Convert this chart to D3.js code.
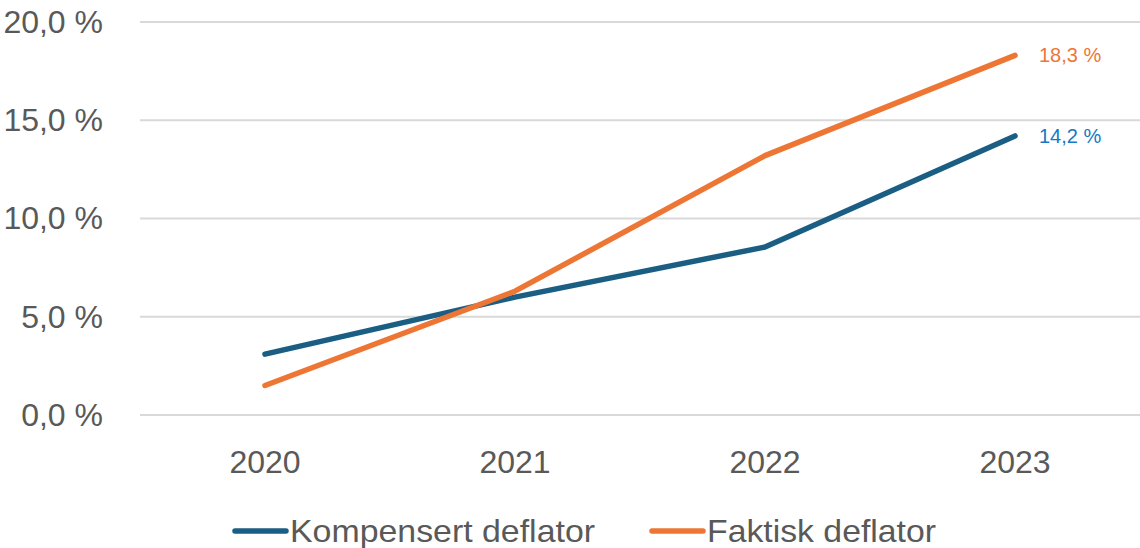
<!DOCTYPE html>
<html>
<head>
<meta charset="utf-8">
<script src="https://cdn.jsdelivr.net/npm/d3@7"></script>
<style>
  body { margin: 0; background: #fff; }
  svg { display: block; }
</style>
</head>
<body>
<svg width="1140" height="548"></svg>
<script>
var years = ["2020", "2021", "2022", "2023"];
var kompensert = [3.1, 6.0, 8.55, 14.2];
var faktisk = [1.5, 6.3, 13.2, 18.3];
var yTicks = [0, 5, 10, 15, 20];
var seriesNames = ["Kompensert deflator", "Faktisk deflator"];

var svg = d3.select("svg");
var plotLeft = 140, plotRight = 1140, plotTop = 22, plotBottom = 415;

var x = d3.scaleBand().domain(years).range([plotLeft, plotRight]);
var y = d3.scaleLinear().domain([0, 20]).range([plotBottom, plotTop]);

var fmt = function (v) { return d3.format(".1f")(v).replace(".", ",") + " %"; };

// gridlines
svg.append("g").selectAll("line")
    .data(yTicks)
    .enter().append("line")
    .attr("x1", plotLeft).attr("x2", plotRight)
    .attr("y1", function (d) { return y(d); })
    .attr("y2", function (d) { return y(d); })
    .attr("stroke", "#d9d9d9")
    .attr("stroke-width", 2);

var yAxis = svg.append("g")
    .attr("transform", "translate(103,0)")
    .call(d3.axisLeft(y).tickValues(yTicks).tickSize(0).tickPadding(0).tickFormat(fmt));
yAxis.select(".domain").remove();
yAxis.selectAll("text")
    .attr("fill", "#595959")
    .style("font-family", "'Liberation Sans', Arial, sans-serif")
    .style("font-size", "32px");

var xAxis = svg.append("g")
    .attr("transform", "translate(0," + plotBottom + ")")
    .call(d3.axisBottom(x).tickSize(0).tickPadding(35));
xAxis.select(".domain").remove();
xAxis.selectAll("text")
    .attr("fill", "#595959")
    .style("font-family", "'Liberation Sans', Arial, sans-serif")
    .style("font-size", "32px");

var line = d3.line()
    .x(function (d, i) { return x(years[i]) + x.bandwidth() / 2; })
    .y(function (d) { return y(d); });

var series = [
  { name: seriesNames[0], values: kompensert, color: "#1b5e84", label: "#1479c4" },
  { name: seriesNames[1], values: faktisk, color: "#ee7634", label: "#ee7634" }
];

series.forEach(function (s) {
  svg.append("path")
      .datum(s.values)
      .attr("d", line)
      .attr("fill", "none")
      .attr("stroke", s.color)
      .attr("stroke-width", 5.5)
      .attr("stroke-linecap", "round")
      .attr("stroke-linejoin", "round");

  var last = s.values[s.values.length - 1];
  svg.append("text")
      .attr("x", x(years[years.length - 1]) + x.bandwidth() / 2 + 24)
      .attr("y", y(last))
      .attr("dy", "0.35em")
      .attr("fill", s.label)
      .style("font-family", "'Liberation Sans', Arial, sans-serif")
      .style("font-size", "20px")
      .text(fmt(last));
});

// legend (condensed font look via textLength)
var legendX = [233, 650];
var legendLen = [305, 229];
series.forEach(function (s, i) {
  var g = svg.append("g").attr("transform", "translate(" + legendX[i] + ",531)");
  g.append("line")
      .attr("x1", 2).attr("x2", 53)
      .attr("stroke", s.color)
      .attr("stroke-width", 5.5)
      .attr("stroke-linecap", "round");
  g.append("text")
      .attr("x", 57)
      .attr("dy", "0.35em")
      .attr("fill", "#595959")
      .attr("textLength", legendLen[i])
      .attr("lengthAdjust", "spacingAndGlyphs")
      .style("font-family", "'Liberation Sans', Arial, sans-serif")
      .style("font-size", "32px")
      .text(s.name);
});
</script>
</body>
</html>
